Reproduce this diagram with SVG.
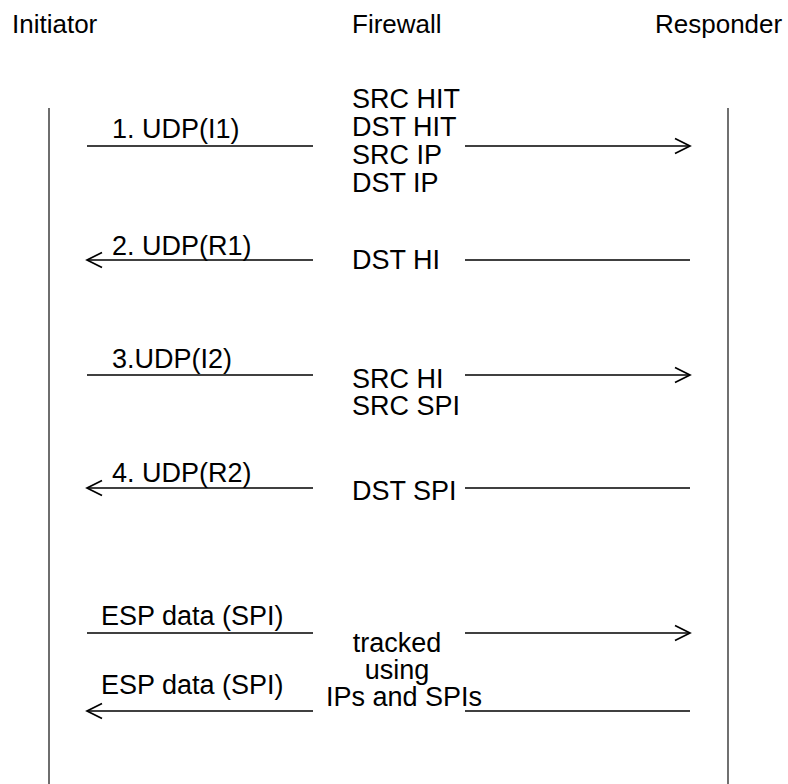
<svg xmlns="http://www.w3.org/2000/svg" width="788" height="784" viewBox="0 0 788 784">
<style>
text{font-family:"Liberation Sans",Arial,sans-serif;font-size:27px;fill:#000}
text.hd{font-size:26px}
.ln{stroke:#000;stroke-width:1.3;fill:none}
.life{stroke:#6e6e6e;stroke-width:2;fill:none}
.lifer{stroke:#111;stroke-width:1.2;fill:none}
</style>
<defs>
<marker id="ah" markerWidth="18" markerHeight="18" refX="16" refY="9" orient="auto" markerUnits="userSpaceOnUse">
<path d="M1,1.5 L16,9 L1,16.5" fill="none" stroke="#000" stroke-width="1.7"/>
</marker>
</defs>
<g id="initiator"><text class="hd" x="12" y="33">Initiator</text><line class="life" x1="49" y1="108" x2="49" y2="784"/></g>
<g id="firewall"><text class="hd" x="352" y="33">Firewall</text></g>
<g id="responder"><text class="hd" x="655" y="33">Responder</text><line class="lifer" x1="728" y1="108" x2="728" y2="784"/></g>
<g id="labels">
<text x="112" y="138">1. UDP(I1)</text>
<text x="352" y="108">SRC HIT</text>
<text x="352" y="136">DST HIT</text>
<text x="352" y="164">SRC IP</text>
<text x="352" y="192">DST IP</text>
<text x="112" y="255">2. UDP(R1)</text>
<text x="352" y="269">DST HI</text>
<text x="112" y="368">3.UDP(I2)</text>
<text x="352" y="388">SRC HI</text>
<text x="352" y="415">SRC SPI</text>
<text x="112" y="482">4. UDP(R2)</text>
<text x="352" y="500">DST SPI</text>
<text x="101" y="625">ESP data (SPI)</text>
<text x="397" y="652" text-anchor="middle">tracked</text>
<text x="397" y="679" text-anchor="middle">using</text>
<text x="101" y="694">ESP data (SPI)</text>
<text x="326" y="706">IPs and SPIs</text>
</g>
<g id="connectors">
<line class="ln" x1="87" y1="146" x2="313" y2="146"/>
<line class="ln" x1="465" y1="146" x2="690" y2="146" marker-end="url(#ah)"/>
<line class="ln" x1="313" y1="260" x2="87" y2="260" marker-end="url(#ah)"/>
<line class="ln" x1="465" y1="260" x2="690" y2="260"/>
<line class="ln" x1="87" y1="375" x2="313" y2="375"/>
<line class="ln" x1="465" y1="375" x2="690" y2="375" marker-end="url(#ah)"/>
<line class="ln" x1="313" y1="488" x2="87" y2="488" marker-end="url(#ah)"/>
<line class="ln" x1="465" y1="488" x2="690" y2="488"/>
<line class="ln" x1="87" y1="633" x2="313" y2="633"/>
<line class="ln" x1="465" y1="633" x2="690" y2="633" marker-end="url(#ah)"/>
<line class="ln" x1="313" y1="711" x2="87" y2="711" marker-end="url(#ah)"/>
<line class="ln" x1="465" y1="711" x2="690" y2="711"/>
</g>
</svg>
